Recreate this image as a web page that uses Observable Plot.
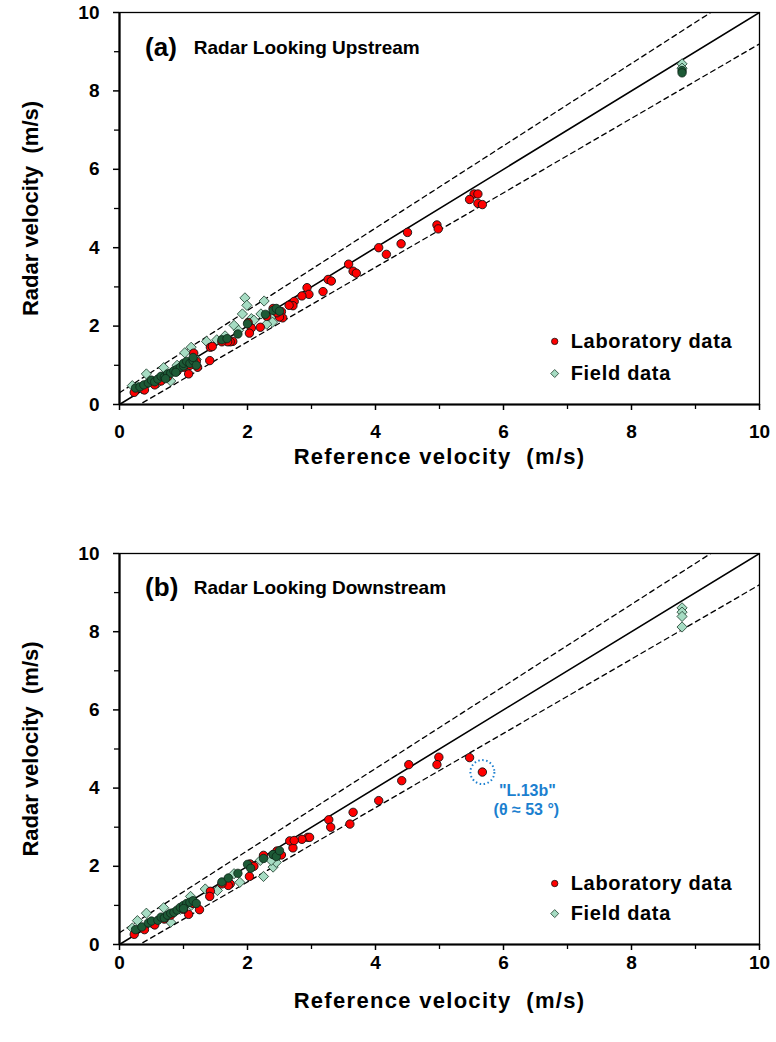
<!DOCTYPE html>
<html>
<head>
<meta charset="utf-8">
<script src="https://cdn.jsdelivr.net/npm/d3@7"></script>
<script src="https://cdn.jsdelivr.net/npm/@observablehq/plot@0.6"></script>
<style>
  body { margin: 0; background: #fff; }
  #chart { width: 776px; font-family: "Liberation Sans", Arial, sans-serif; }
  #chart svg { display: block; overflow: visible; }
</style>
</head>
<body>
<div id="chart"></div>
<script>
// ---------- data ----------
const majorTicks = [0, 2, 4, 6, 8, 10];
const minorTicks = [1, 3, 5, 7, 9];
const guideSlopes = [0.95, 1.0, 1.05];
const guideOffsets = [-0.3, 0.0, 0.3];
const guideDash = ["5,4", null, "5,4"];

const labA = [
  [5.54,5.37],[5.60,5.37],[5.47,5.23],[5.60,5.13],[5.67,5.10],
  [4.96,4.58],[4.98,4.48],[4.50,4.39],[4.40,4.10],[4.05,4.00],[4.17,3.83],
  [3.58,3.58],[3.65,3.40],[3.70,3.35],[3.26,3.19],[3.31,3.15],[3.18,2.88],
  [2.93,2.98],[2.96,2.81],[2.85,2.77],[2.73,2.63],[2.71,2.52],[2.65,2.53],
  [2.53,2.37],[2.55,2.21],[2.50,2.23],[2.46,2.34],[2.20,1.97],[2.06,1.95],[2.03,1.82],[2.01,2.09],
  [1.77,1.61],[1.73,1.60],[1.69,1.60],[1.42,1.46],[1.45,1.48],[1.41,1.12],[1.16,1.31],[1.22,0.95],[1.08,0.78],
  [0.39,0.37],[0.23,0.31],[0.55,0.50],[0.75,0.70],[0.90,0.85],[1.00,0.95],[1.10,1.00],[0.65,0.60],
  [1.20,1.10],[2.40,2.45],[1.60,1.60],[2.30,2.25]
];
const fieldLightA = [
  [1.96,2.72],[1.99,2.53],[1.92,2.31],[2.26,2.64],[2.21,2.31],[2.06,2.19],[1.79,2.02],[1.86,1.89],
  [1.52,1.65],[1.36,1.61],[1.12,1.46],[1.02,1.32],[0.42,0.78],[0.20,0.48],[0.69,0.94],[0.80,0.60],
  [2.37,2.23],[2.39,2.10],[2.46,2.42],[0.28,0.45],[0.50,0.60],[0.60,0.55],[0.90,1.00],[1.05,0.95],
  [1.20,1.15],[1.65,1.75],[2.10,2.15],[2.30,2.05],[0.35,0.40],[8.79,8.69],[8.79,8.58]
];
const fieldDarkA = [
  [0.25,0.42],[0.32,0.45],[0.38,0.50],[0.45,0.55],[0.50,0.62],[0.55,0.58],[0.60,0.65],[0.65,0.72],
  [0.70,0.70],[0.75,0.78],[0.80,0.80],[0.85,0.86],[0.90,0.90],[0.95,0.95],[1.00,0.98],[1.00,1.05],
  [1.05,1.10],[1.10,1.05],[1.15,1.12],[1.15,1.20],[1.20,1.00],[0.88,0.82],[0.72,0.66],[1.60,1.65],
  [1.68,1.68],[1.85,1.80],[2.00,2.06],[2.28,2.30],[2.40,2.40],[2.45,2.45],[2.50,2.38],[8.79,8.52],[8.79,8.46]
];

const labB = [
  [5.67,4.41],[5.47,4.78],[4.99,4.79],[4.96,4.60],[4.52,4.60],[4.41,4.19],[4.05,3.68],[3.65,3.38],
  [3.60,3.08],[3.27,3.19],[3.30,3.00],[2.94,2.74],[2.97,2.74],[2.85,2.69],[2.71,2.47],[2.66,2.65],
  [2.73,2.66],[2.53,2.29],[2.46,2.39],[2.25,2.28],[2.04,2.06],[2.03,1.74],[1.73,1.55],[1.70,1.51],
  [1.42,1.36],[1.41,1.23],[1.25,0.89],[1.08,0.77],[0.39,0.38],[0.23,0.26],[0.55,0.50],[0.80,0.75],
  [1.00,0.90],[1.15,1.05],[2.10,2.00],[2.40,2.30],[1.60,1.55],[0.70,0.65]
];
const fieldLightB = [
  [2.25,1.74],[2.40,1.98],[2.45,2.10],[2.37,2.15],[1.88,1.59],[1.53,1.38],[1.34,1.42],[1.11,1.23],
  [0.69,0.94],[0.80,0.57],[0.42,0.80],[0.28,0.61],[0.20,0.42],[1.79,1.81],[1.12,1.00],[0.50,0.55],
  [0.95,0.90],[2.20,2.15],[2.50,2.30],[1.65,1.60],[8.79,8.61],[8.79,8.50],[8.79,8.39],[8.79,8.12]
];
const fieldDarkB = [
  [0.25,0.38],[0.35,0.45],[0.45,0.55],[0.50,0.60],[0.60,0.62],[0.65,0.70],[0.70,0.68],[0.75,0.75],
  [0.80,0.80],[0.85,0.82],[0.90,0.88],[0.95,0.95],[1.00,1.00],[1.05,1.05],[1.10,1.08],[1.15,1.12],
  [1.20,1.05],[1.00,0.92],[1.60,1.60],[1.70,1.70],[1.85,1.82],[2.00,2.05],[2.05,1.95],[2.25,2.20],
  [2.40,2.30],[2.45,2.25],[2.50,2.40]
];

const panelTags = ["(a)", "(b)"];
const panelTitles = ["Radar Looking Upstream", "Radar Looking Downstream"];
const legendLabels = ["Laboratory data", "Field data"];
const xLabel = "Reference velocity\u00a0\u00a0(m/s)";
const yLabel = "Radar velocity\u00a0\u00a0(m/s)";
const outlier = [[5.67, 4.41]];
const outlierText = ['"L.13b"', "(θ ≈ 53 °)"];

// legend / title anchor positions in data units
const legendPos = {x: 6.8, textX: 7.05, y: [[1.61, 0.79], [1.56, 0.79]]};
const titlePos = {tagX: 0.40, titleX: 1.16, y: [9.1, 9.13]};

const RED = "#ff0000";
const MINT = "#a6dcc3";
const DARK = "#1d5a36";
const BLUE = "#1b7fcf";

function panel(i, lab, fLight, fDark, height, mTop, mBottom, xTickPad, xLabelOff) {
  const guides = guideSlopes.map((s, k) => ({
    k, dash: guideDash[k],
    pts: [0, 10].map(x => ({x, y: s * x + guideOffsets[k]}))
  }));
  const marks = [
    ...guides.map(g => Plot.line(g.pts, {x: "x", y: "y", stroke: "#000",
      strokeWidth: g.dash ? 1.3 : 1.6, strokeDasharray: g.dash, clip: true})),
    Plot.dot(fLight, {x: d => d[0], y: d => d[1], symbol: "diamond2", r: 4.6,
      fill: MINT, stroke: "#1a3a28", strokeWidth: 0.8}),
    Plot.dot(lab, {x: d => d[0], y: d => d[1], r: 4.2, fill: RED, stroke: "#111", strokeWidth: 0.9}),
    Plot.dot(fDark, {x: d => d[0], y: d => d[1], r: 4.2, fill: DARK, stroke: "#0c2416", strokeWidth: 0.8}),
    Plot.frame({stroke: "#000", strokeWidth: 1.3}),
    Plot.ruleX([0], {stroke: "#000", strokeWidth: 2.2}),
    Plot.ruleY([0], {stroke: "#000", strokeWidth: 2.2}),
    Plot.axisX({ticks: majorTicks, tickSize: 6, tickPadding: xTickPad, tickFormat: d => d,
      fontSize: 19, fontWeight: "bold", strokeWidth: 1.5, label: null}),
    Plot.axisX({ticks: minorTicks, tickSize: 5, tickFormat: () => "", strokeWidth: 1.3, label: null}),
    Plot.axisY({ticks: majorTicks, tickSize: 6, tickPadding: 14, tickFormat: d => d,
      fontSize: 19, fontWeight: "bold", strokeWidth: 1.5, label: null}),
    Plot.axisY({ticks: minorTicks, tickSize: 5, tickFormat: () => "", strokeWidth: 1.3, label: null}),
    Plot.text([xLabel], {frameAnchor: "bottom", dy: xLabelOff, lineAnchor: "middle", textAnchor: "middle",
      fontSize: 22, fontWeight: "bold", fill: "#000"}),
    Plot.text([yLabel], {frameAnchor: "left", dx: -89, rotate: -90, lineAnchor: "middle", textAnchor: "middle",
      fontSize: 22, fontWeight: "bold", fill: "#000"}),
    Plot.text([panelTags[i]], {x: titlePos.tagX, y: titlePos.y[i], textAnchor: "start", fontSize: 26, fontWeight: "bold", fill: "#000"}),
    Plot.text([panelTitles[i]], {x: titlePos.titleX, y: titlePos.y[i], textAnchor: "start", fontSize: 19, fontWeight: "bold", fill: "#000"}),
    Plot.dot([legendPos.y[i][0]], {x: legendPos.x, y: d => d, r: 3.2, fill: RED, stroke: "#111", strokeWidth: 0.8}),
    Plot.dot([legendPos.y[i][1]], {x: legendPos.x, y: d => d, r: 3.6, symbol: "diamond2", fill: MINT, stroke: "#1a3a28", strokeWidth: 0.8}),
    Plot.text(legendLabels, {x: legendPos.textX, y: (d, j) => legendPos.y[i][j], textAnchor: "start",
      fontSize: 20, fontWeight: "bold", fill: "#000"})
  ];
  if (i === 1) {
    marks.push(
      Plot.dot(outlier, {x: d => d[0], y: d => d[1], r: 12, fill: "none", stroke: BLUE, strokeWidth: 2, strokeDasharray: "1.5,2.5"}),
      Plot.text([outlierText[0]], {x: outlier[0][0], y: outlier[0][1], dx: 45, dy: 19,
        fontSize: 16, fontWeight: "bold", fill: BLUE}),
      Plot.text([outlierText[1]], {x: outlier[0][0], y: outlier[0][1], dx: 44, dy: 38,
        fontSize: 16, fontWeight: "bold", fill: BLUE})
    );
  }
  return Plot.plot({
    width: 776, height,
    marginLeft: 119, marginRight: 17, marginTop: mTop, marginBottom: mBottom,
    x: {domain: [0, 10]}, y: {domain: [0, 10]},
    style: {fontFamily: '"Liberation Sans", Arial, sans-serif', background: "#fff", color: "#000"},
    marks
  });
}

const chart = document.getElementById("chart");
const a = panel(0, labA, fieldLightA, fieldDarkA, 540, 12, 136, 14, 52);
const b = panel(1, labB, fieldLightB, fieldDarkB, 502, 13, 98, 5, 56);
chart.append(a, b);

// slight letter spacing to match the reference's wide bold lettering
const spacing = new Map([[xLabel, "1.3px"], [legendLabels[0], "0.7px"], [legendLabels[1], "0.7px"]]);
chart.querySelectorAll("text").forEach(t => {
  const s = spacing.get(t.textContent);
  if (s) t.style.letterSpacing = s;
});
</script>
</body>
</html>
